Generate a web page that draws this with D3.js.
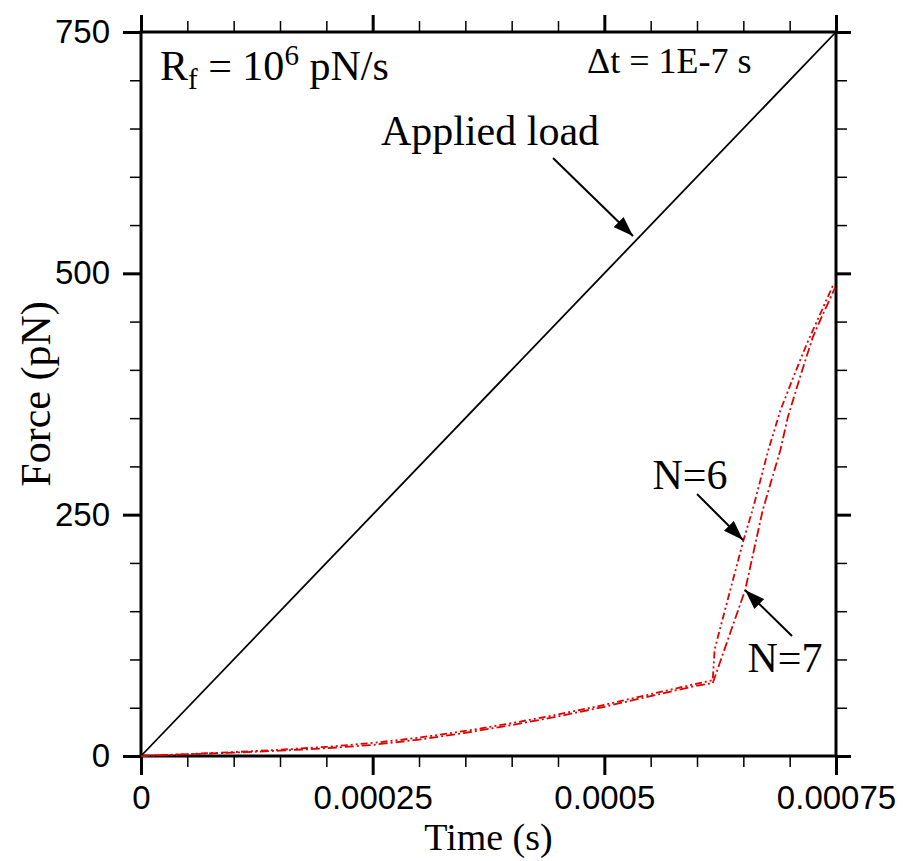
<!DOCTYPE html>
<html>
<head>
<meta charset="utf-8">
<script src="https://cdn.jsdelivr.net/npm/d3@7"></script>
<style>
  body { margin: 0; background: #fff; }
</style>
</head>
<body>
<div id="chart"></div>
<script>
// chart values
let xMajor = [0, 0.00025, 0.0005, 0.00075];
let yMajor = [0, 250, 500, 750];
let xTickLabels = ["0", "0.00025", "0.0005", "0.00075"];
let yTickLabels = ["0", "250", "500", "750"];

let loadTime = [0, 0.00075];
let loadForce = [0, 750];

let n6Time = [0, 0.0001, 0.00015, 0.0002, 0.00025, 0.0003, 0.00035, 0.0004, 0.00045, 0.0005, 0.00055, 0.0006, 0.000617,
              0.000619, 0.000623, 0.00065, 0.00066, 0.000677, 0.00069, 0.000705, 0.000719, 0.000733, 0.000747];
let n6Force = [0, 4, 6.5, 9.5, 13.5, 19, 26, 34, 43, 53, 64, 75, 78.5,
               110, 125, 223, 255, 317, 358, 395, 428, 458, 488];

let n7Time = [0, 0.0001, 0.00015, 0.0002, 0.00025, 0.0003, 0.00035, 0.0004, 0.00045, 0.0005, 0.00055, 0.0006, 0.000617,
              0.000652, 0.000671, 0.00069, 0.000698, 0.000712, 0.000725, 0.000737, 0.000749];
let n7Force = [0, 3.5, 5.5, 8, 11.5, 17, 24, 32, 41, 51, 62, 73, 75.5,
               172, 255, 317, 351, 395, 434, 460, 485];

let width = 903, height = 861;
let margin = {top: 32, right: 67, bottom: 105, left: 141};
let plotW = width - margin.left - margin.right,
    plotH = height - margin.top - margin.bottom;

let serif = "'Liberation Serif', 'Times New Roman', serif";
let sans = "'Liberation Sans', Arial, sans-serif";

let x = d3.scaleLinear().domain([0, 0.00075]).range([0, plotW]);
let y = d3.scaleLinear().domain([0, 750]).range([plotH, 0]);

let svg = d3.select("#chart").append("svg")
    .attr("width", width)
    .attr("height", height);

svg.append("defs").append("marker")
    .attr("id", "head")
    .attr("viewBox", "0 0 20 14")
    .attr("refX", 20).attr("refY", 7)
    .attr("markerWidth", 20).attr("markerHeight", 14)
    .attr("markerUnits", "userSpaceOnUse")
    .attr("orient", "auto")
    .append("path")
    .attr("d", "M0,0 L20,7 L0,14 Z")
    .attr("fill", "black");

let g = svg.append("g")
    .attr("transform", "translate(" + margin.left + "," + margin.top + ")");

// minor ticks every 0.00005 s and 50 pN
let xMinor = d3.range(0, 0.00075 + 1e-9, 0.00005).filter(v => !xMajor.some(m => Math.abs(m - v) < 1e-9));
let yMinor = d3.range(0, 751, 50).filter(v => yMajor.indexOf(v) < 0);

function styleAxis(sel, w) {
    sel.select(".domain").remove();
    sel.selectAll(".tick line").attr("stroke", "black").attr("stroke-width", w);
}

// minor ticks on all four sides
g.append("g").attr("transform", "translate(0," + plotH + ")")
    .call(d3.axisBottom(x).tickValues(xMinor).tickSize(11).tickFormat(""))
    .call(s => styleAxis(s, 1.5));
g.append("g")
    .call(d3.axisTop(x).tickValues(xMinor).tickSize(11).tickFormat(""))
    .call(s => styleAxis(s, 1.5));
g.append("g")
    .call(d3.axisLeft(y).tickValues(yMinor).tickSize(11).tickFormat(""))
    .call(s => styleAxis(s, 1.5));
g.append("g").attr("transform", "translate(" + plotW + ",0)")
    .call(d3.axisRight(y).tickValues(yMinor).tickSize(11).tickFormat(""))
    .call(s => styleAxis(s, 1.5));

// major ticks
let xAxis = g.append("g").attr("transform", "translate(0," + plotH + ")")
    .call(d3.axisBottom(x).tickValues(xMajor).tickSize(19).tickPadding(11)
        .tickFormat((d, i) => xTickLabels[i]))
    .call(s => styleAxis(s, 3));
g.append("g")
    .call(d3.axisTop(x).tickValues(xMajor).tickSize(17).tickFormat(""))
    .call(s => styleAxis(s, 3));
let yAxis = g.append("g")
    .call(d3.axisLeft(y).tickValues(yMajor).tickSize(18).tickPadding(13)
        .tickFormat((d, i) => yTickLabels[i]))
    .call(s => styleAxis(s, 3));
g.append("g").attr("transform", "translate(" + plotW + ",0)")
    .call(d3.axisRight(y).tickValues(yMajor).tickSize(15).tickFormat(""))
    .call(s => styleAxis(s, 3));

[xAxis, yAxis].forEach(a => a.selectAll("text")
    .attr("font-family", sans)
    .attr("font-size", 33)
    .attr("fill", "black"));

// frame
g.append("rect")
    .attr("width", plotW).attr("height", plotH)
    .attr("fill", "none")
    .attr("stroke", "black")
    .attr("stroke-width", 3);

// curves
let line = d3.line().x(d => x(d[0])).y(d => y(d[1]));

g.append("path")
    .datum(d3.zip(loadTime, loadForce))
    .attr("d", line)
    .attr("fill", "none").attr("stroke", "black").attr("stroke-width", 1.8);

g.append("path")
    .datum(d3.zip(n6Time, n6Force))
    .attr("d", line)
    .attr("fill", "none").attr("stroke", "#e00000").attr("stroke-width", 1.8)
    .attr("stroke-dasharray", "7,3,2,3,2,3");

g.append("path")
    .datum(d3.zip(n7Time, n7Force))
    .attr("d", line)
    .attr("fill", "none").attr("stroke", "#e00000").attr("stroke-width", 1.8)
    .attr("stroke-dasharray", "9,3,2,3");

// annotations
function arrow(x1, y1, x2, y2) {
    svg.append("line")
        .attr("x1", x1).attr("y1", y1).attr("x2", x2).attr("y2", y2)
        .attr("stroke", "black").attr("stroke-width", 2)
        .attr("marker-end", "url(#head)");
}

function label(xp, yp, size, txt, anchor) {
    return svg.append("text")
        .attr("x", xp).attr("y", yp)
        .attr("text-anchor", anchor || "start")
        .attr("font-family", serif)
        .attr("font-size", size)
        .attr("fill", "black")
        .text(txt);
}

label(490, 145, 42, "Applied load", "middle");
arrow(553, 158, 633, 236);

label(690, 489, 42, "N=6", "middle");
arrow(697, 494, 743, 540);

label(785, 672, 42, "N=7", "middle");
arrow(792, 636, 745, 590);

let rf = label(160, 80, 42, "");
rf.append("tspan").text("R");
rf.append("tspan").attr("font-size", 29).attr("dy", 9).text("f");
rf.append("tspan").attr("dy", -9).text(" = 10");
rf.append("tspan").attr("font-size", 29).attr("dy", -15).text("6");
rf.append("tspan").attr("dy", 15).text(" pN/s");

label(587, 73, 36, "\u0394t = 1E-7 s");

// axis titles
label(margin.left + plotW / 2, 850, 38, "Time (s)", "middle");

label(0, 0, 42, "Force (pN)", "middle")
    .attr("transform", "translate(50," + (margin.top + plotH / 2) + ") rotate(-90)");
</script>
</body>
</html>
